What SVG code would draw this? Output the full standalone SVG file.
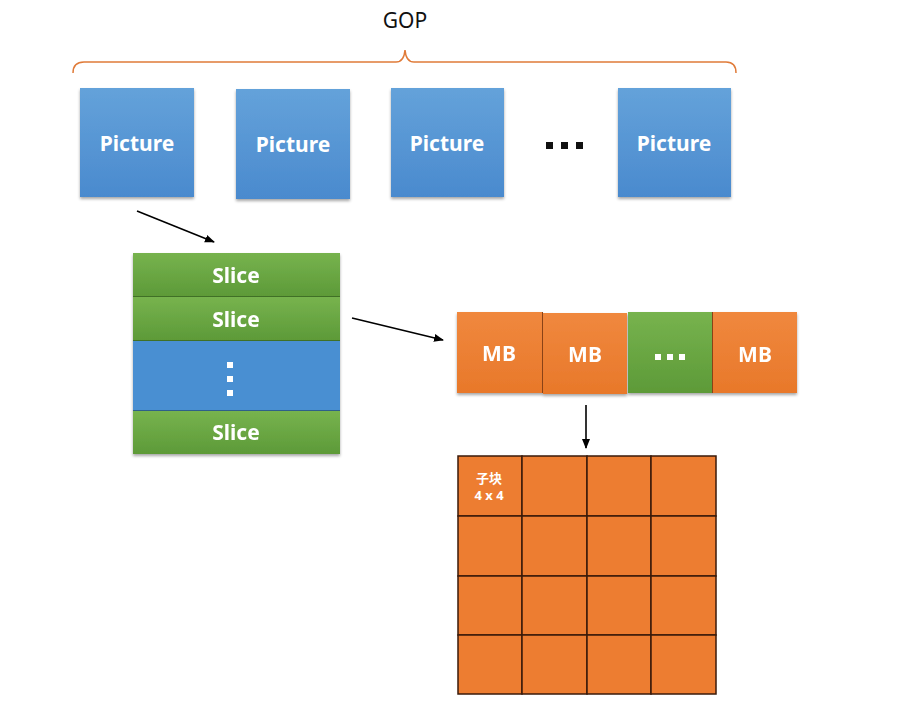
<svg xmlns="http://www.w3.org/2000/svg" width="910" height="719" viewBox="0 0 910 719">
<defs>
<linearGradient id="blue" x1="0" y1="0" x2="0" y2="1"><stop offset="0" stop-color="#64a2da"/><stop offset="1" stop-color="#4a8ace"/></linearGradient>
<linearGradient id="green" x1="0" y1="0" x2="0" y2="1"><stop offset="0" stop-color="#77b34e"/><stop offset="1" stop-color="#5d9a38"/></linearGradient>
<linearGradient id="orange" x1="0" y1="0" x2="0" y2="1"><stop offset="0" stop-color="#f0883e"/><stop offset="1" stop-color="#e8782a"/></linearGradient>
<filter id="sh" x="-10%" y="-10%" width="120%" height="130%"><feDropShadow dx="0" dy="2" stdDeviation="1.5" flood-color="#000" flood-opacity="0.35"/></filter>
<marker id="arr" markerWidth="10" markerHeight="10" refX="9" refY="5" orient="auto" markerUnits="userSpaceOnUse"><path d="M0,1 L10,5 L0,9 z" fill="#000"/></marker>
</defs>
<style>
.lbl{font-family:"Noto Sans","Liberation Sans",sans-serif;font-weight:bold;fill:#fff;text-anchor:middle;dominant-baseline:central}
.pic{fill:url(#blue);filter:url(#sh)}
.conn{stroke:#000;stroke-width:1.6;fill:none;marker-end:url(#arr)}
.cell{fill:#ed7d31;stroke:#3a1a0a;stroke-width:1.5}
</style>
<rect width="910" height="719" fill="#fff"/>
<g id="gop">
<text x="405" y="20" font-family="'Noto Sans','Liberation Sans',sans-serif" font-size="21" text-anchor="middle" dominant-baseline="central" fill="#111">GOP</text>
<path d="M73,73 Q73,62 84,62 L396,62 Q404,62 405,50 Q406,62 414,62 L726,62 Q736,62 736,73" fill="none" stroke="#e07b39" stroke-width="1.5"/>
</g>
<g id="picture1"><rect class="pic" x="80" y="88" width="114" height="109"/><text class="lbl" x="137" y="143" font-size="21">Picture</text></g>
<g id="picture2"><rect class="pic" x="236" y="89" width="114" height="110"/><text class="lbl" x="293" y="144" font-size="21">Picture</text></g>
<g id="picture3"><rect class="pic" x="391" y="88" width="113" height="109"/><text class="lbl" x="447" y="143" font-size="21">Picture</text></g>
<g id="dots"><rect x="546" y="142" width="7" height="7" fill="#111"/><rect x="561" y="142" width="7" height="7" fill="#111"/><rect x="576" y="142" width="7" height="7" fill="#111"/></g>
<g id="picture4"><rect class="pic" x="618" y="88" width="113" height="109"/><text class="lbl" x="674" y="143" font-size="21">Picture</text></g>
<g id="slices" filter="url(#sh)">
<rect x="133" y="253" width="207" height="43" fill="url(#green)"/>
<rect x="133" y="297" width="207" height="43" fill="url(#green)"/>
<rect x="133" y="341" width="207" height="69" fill="#4a8fd2"/>
<rect x="133" y="411" width="207" height="43" fill="url(#green)"/>
<line x1="133" y1="296.5" x2="340" y2="296.5" stroke="#3f6f25" stroke-width="1"/>
<line x1="133" y1="340.5" x2="340" y2="340.5" stroke="#3f6f25" stroke-width="1"/>
<line x1="133" y1="410.5" x2="340" y2="410.5" stroke="#2f5f8a" stroke-width="1"/>
<text class="lbl" x="236" y="275" font-size="21">Slice</text>
<text class="lbl" x="236" y="319" font-size="21">Slice</text>
<rect x="227" y="362" width="6" height="6" fill="#fff"/>
<rect x="227" y="376" width="6" height="6" fill="#fff"/>
<rect x="227" y="390" width="6" height="6" fill="#fff"/>
<text class="lbl" x="236" y="432" font-size="21">Slice</text>
</g>
<g id="mbs" filter="url(#sh)">
<rect x="457" y="312" width="85" height="81" fill="url(#orange)"/>
<rect x="543" y="313" width="84" height="81" fill="url(#orange)"/>
<rect x="628" y="312" width="84" height="81" fill="url(#green)"/>
<rect x="713" y="312" width="84" height="81" fill="url(#orange)"/>
<line x1="542.5" y1="312" x2="542.5" y2="393" stroke="#8a4316" stroke-width="1"/>
<line x1="712.5" y1="312" x2="712.5" y2="393" stroke="#8a4316" stroke-width="1"/>
<text class="lbl" x="499" y="353" font-size="21">MB</text>
<text class="lbl" x="585" y="354" font-size="21">MB</text>
<rect x="655" y="354" width="6" height="6" fill="#fff"/>
<rect x="667" y="354" width="6" height="6" fill="#fff"/>
<rect x="679" y="354" width="6" height="6" fill="#fff"/>
<text class="lbl" x="755" y="354" font-size="21">MB</text>
</g>
<g id="grid">
<rect class="cell" x="458" y="456" width="64" height="60"/><rect class="cell" x="522" y="456" width="65" height="60"/><rect class="cell" x="587" y="456" width="64" height="60"/><rect class="cell" x="651" y="456" width="65" height="60"/>
<rect class="cell" x="458" y="516" width="64" height="60"/><rect class="cell" x="522" y="516" width="65" height="60"/><rect class="cell" x="587" y="516" width="64" height="60"/><rect class="cell" x="651" y="516" width="65" height="60"/>
<rect class="cell" x="458" y="576" width="64" height="59"/><rect class="cell" x="522" y="576" width="65" height="59"/><rect class="cell" x="587" y="576" width="64" height="59"/><rect class="cell" x="651" y="576" width="65" height="59"/>
<rect class="cell" x="458" y="635" width="64" height="59"/><rect class="cell" x="522" y="635" width="65" height="59"/><rect class="cell" x="587" y="635" width="64" height="59"/><rect class="cell" x="651" y="635" width="65" height="59"/>
<text x="489" y="477" font-family="'Noto Sans CJK SC','Noto Sans',sans-serif" font-weight="bold" font-size="13" fill="#fff" text-anchor="middle" dominant-baseline="central">子块</text>
<text x="489" y="495" font-family="'Noto Sans','Liberation Sans',sans-serif" font-weight="bold" font-size="13" fill="#fff" text-anchor="middle" dominant-baseline="central">4 x 4</text>
</g>
<g id="connectors">
<line class="conn" x1="137" y1="211" x2="214" y2="242"/>
<line class="conn" x1="352" y1="318" x2="443" y2="340"/>
<line class="conn" x1="586" y1="405" x2="586" y2="448"/>
</g>
</svg>
